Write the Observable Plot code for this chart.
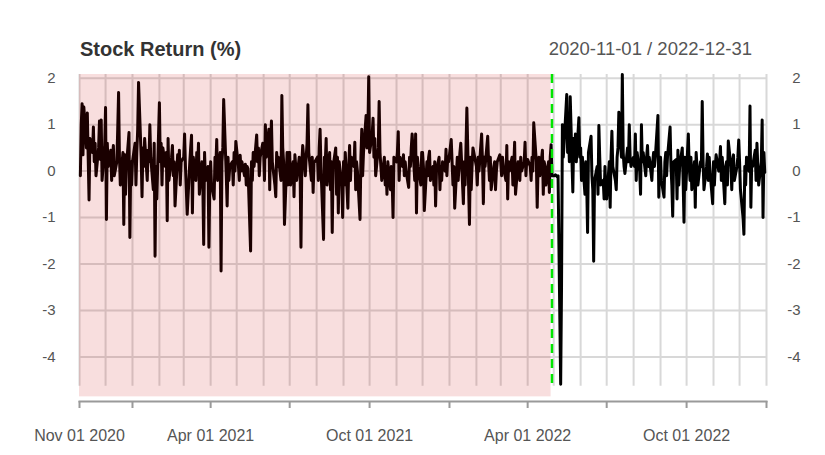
<!DOCTYPE html>
<html>
<head>
<meta charset="utf-8">
<script src="https://cdn.jsdelivr.net/npm/d3@7"></script>
<script src="https://cdn.jsdelivr.net/npm/@observablehq/plot@0.6"></script>
<style>
  body { margin: 0; background: #fff; font-family: "Liberation Sans", Arial, sans-serif; }
  #wrap { position: relative; width: 825px; height: 455px; }
  #title { position: absolute; left: 80px; top: 39px; font-size: 20px; font-weight: bold; color: #333; line-height: 1; white-space: nowrap; }
  #range { position: absolute; right: 73px; top: 40px; font-size: 18.5px; color: #555; line-height: 1; white-space: nowrap; }
</style>
</head>
<body>
<div id="wrap">
  <div id="chart"></div>
  <div id="title">Stock Return (%)</div>
  <div id="range">2020-11-01 / 2022-12-31</div>
</div>
<script>
// Daily stock returns (%), one array per month, trading days (Mon–Fri) in order
const returns2020 = [
  [-0.1, 1.0, 1.45, 0.35, 1.38, 0.5, 1.25, 0.3, -0.62, 0.7, 0.4, 0.95, 0.2, 0.6, -0.1, 0.5, 1.08, 0.25, 1.1, -0.2, 0.55],
  [1.37, -1.04, 0.6, 0.1, 0.45, -0.2, 0.3, 0.55, -0.1, 0.2, 0.9, 1.69, 0.3, -0.3, 0.4, -1.15, 0.35, -0.5, 0.1, 0.83, -1.43, 0.2, -0.3]
];
const returns2021 = [
  [0.2, 0.6, -0.3, 0.4, 0.9, 1.91, 0.3, -0.55, 0.5, 0.1, 0.7, -0.2, 0.45, 0.2, 1.0, 0.3, -0.4, 0.6, -1.83, 0.1, -0.6],
  [1.47, 0.2, 0.6, -0.3, 0.5, 0.1, 0.4, -1.07, 0.7, -0.2, 0.3, 0.55, -0.1, 0.2, -0.75, 0.35, 0.1, 0.45, -0.3, 0.2],
  [0.3, 0.8, 0.1, -0.4, -0.93, 0.2, 0.5, 0.77, -0.9, 0.3, -0.2, 0.4, 0.1, 0.6, -0.5, 0.2, -0.3, -1.58, 0.4, -0.2, 0.1, -1.64, -0.3],
  [0.2, -0.3, -0.6, 0.3, 0.1, 0.68, -0.2, 0.4, -2.15, 0.2, 0.5, 1.54, -0.1, -0.75, 0.3, -0.2, 0.1, 0.2, -0.3, 0.4, 0.0, 0.64],
  [0.1, -0.2, 0.34, 0.0, 0.2, -0.1, 0.15, -0.3, 0.1, 0.05, -1.72, 0.2, -0.2, 0.4, 0.1, 0.78, 0.2, 0.5, -0.1, 0.3, 0.6],
  [0.4, -0.2, 1.0, 0.3, 0.9, -0.4, 0.6, 1.08, 0.2, -0.3, -0.55, 0.4, 0.1, 0.3, -0.2, 1.63, 0.5, 0.2, -1.15, 0.4, -0.3, 0.4],
  [0.4, -0.3, 0.2, -0.55, 0.35, 0.1, -0.2, 0.3, 0.0, -1.64, 0.2, 0.55, -0.1, 0.3, 0.6, 1.43, 0.4, -0.2, 0.3, -0.46, 0.2, 0.2],
  [0.3, -0.2, 0.5, 0.9, 0.1, -1.47, 0.3, 0.2, 0.7, -0.3, 0.4, -0.4, 0.2, -1.32, 0.1, 0.5, -0.5, 0.3, -0.9, 0.2, -0.3, -1.0],
  [0.2, -0.3, 0.4, -0.8, 0.1, 0.55, -0.2, 0.3, 0.1, 0.62, -0.4, 0.2, 0.0, -1.04, 0.3, 0.9, -0.1, 0.4, 1.2, 0.5, 0.8, 2.03],
  [0.4, 0.8, 1.14, 0.3, 0.7, -0.1, 0.5, 1.5, 0.4, 0.1, -0.2, 0.3, -0.3, 0.1, -0.5, 0.2, -0.4, 0.1, -0.2, -1.0, 0.3],
  [0.2, 0.4, 0.85, -0.2, 0.3, 0.1, 0.35, -0.1, 0.2, 0.0, -0.35, 0.3, 0.1, 0.5, 0.8, -0.2, 0.8, -0.9, 0.3, 0.1, -0.3, 0.4],
  [0.4, 0.1, -0.85, 0.2, -0.1, 0.3, 0.43, -0.2, 0.1, -0.3, 0.2, -0.75, 0.0, 0.3, -0.4, 0.1, -0.2, 0.2, 0.0, 0.47, -0.1, 0.3, 0.2]
];
const returns2022 = [
  [0.68, 0.2, -0.3, 0.1, -0.8, 0.3, -0.2, 0.1, 0.4, 0.6, -0.7, 0.2, -0.3, 0.5, 1.36, -1.15, 0.3, -0.4, 0.1, 0.5, 0.2],
  [0.1, -0.3, 0.3, 0.0, 0.8, 0.2, -0.7, 0.3, 0.1, 0.75, 0.2, -0.2, 0.3, -0.4, 0.1, 0.2, -0.4, 0.0, 0.2, 0.35],
  [0.2, -0.1, 0.3, 0.1, -0.2, 0.55, -0.6, 0.2, 0.0, 0.3, -0.3, 0.1, 0.62, -0.5, 0.2, 0.1, -0.2, 0.3, 0.0, 0.2, 0.62, -0.1, 0.25],
  [0.25, 0.1, -0.2, 0.3, 0.0, 1.04, 0.2, -0.78, 0.1, 0.3, -0.1, 0.45, -0.5, 0.2, 0.1, -0.3, 0.2, -0.46, 0.3, 0.57, -0.1],
  [-0.1, -0.08, -0.1, -0.12, -0.1, -4.59, -2.5, 1.0, 0.3, 0.6, 1.65, 0.4, 0.9, 0.2, 1.6, -0.45, 0.7, 0.3, 0.8, 0.2, 1.15, 0.3],
  [0.5, -0.2, 0.3, -0.5, 0.2, -0.3, -1.32, 0.4, 0.75, -0.1, -0.4, -1.94, -0.2, 0.1, -0.5, 0.98, 0.3, -0.3, -0.2, -0.6, 0.1, -0.4],
  [-0.6, 0.2, -0.78, 0.3, 0.86, 0.1, -0.2, -0.4, 0.3, 0.5, 1.27, 0.3, 2.08, 0.4, 0.1, -0.05, 0.5, 0.2, 1.0, 0.3, 0.1],
  [0.3, 0.1, 0.8, -0.2, 0.4, 0.0, -0.5, 1.0, 0.2, 0.4, -0.1, 0.3, 0.55, 0.1, 0.3, -0.2, 0.2, 0.4, 0.1, 0.3, 1.2, -0.56, 0.2],
  [0.3, -0.2, -0.56, 0.2, 0.4, -0.1, 0.3, 0.95, 0.1, -0.3, -0.97, 0.2, 0.25, -0.6, 0.45, -0.3, 0.1, 0.5, -0.2, -1.1, 0.3, -0.4],
  [0.8, 0.1, -0.2, 0.3, -0.4, 0.2, -0.78, 0.4, 0.1, -0.3, 0.2, 0.1, 1.5, 0.2, -0.4, 0.1, 0.37, -0.2, 0.3, 0.0, -0.7],
  [0.2, -0.3, 0.1, 0.35, 0.0, 0.2, 0.53, -0.2, 0.3, -0.7, 0.1, 0.2, -0.3, 0.65, 0.1, -0.4, 0.2, 0.35, -0.2, 0.1, 0.3, 0.67],
  [0.2, -0.4, -1.0, -1.36, 0.1, -0.3, 0.3, 0.0, 1.4, -0.78, 0.2, 0.1, 0.45, -0.2, 0.6, 0.1, -0.3, 0.2, 1.1, -1.0, 0.4, -0.03]
];

const seriesStart = "2020-11-01";
const seriesEnd = "2023-01-01";
const shadeStart = "2020-11-01";
const shadeEnd = "2022-04-28";
const eventDate = "2022-04-29";
const yTicks = [-4, -3, -2, -1, 0, 1, 2];
const majorTickDates = ["2020-11-01", "2021-01-01", "2021-04-01", "2021-07-01", "2021-10-01",
                        "2022-01-01", "2022-04-01", "2022-07-01", "2022-10-01", "2023-01-01"];
const labelDates = ["2020-11-01", "2021-04-01", "2021-10-01", "2022-04-01", "2022-10-01"];

// Build the daily table
const monthValues = [...returns2020, ...returns2021, ...returns2022];
const months = d3.utcMonth.range(new Date(seriesStart), new Date(seriesEnd));
const data = [];
months.forEach((m, i) => {
  const days = d3.utcDays(m, d3.utcMonth.offset(m, 1)).filter(d => d.getUTCDay() !== 0 && d.getUTCDay() !== 6);
  (monthValues[i] || []).forEach((v, j) => { if (days[j]) data.push({date: days[j], value: v}); });
});

const yMin = -4.63, yMax = 2.08, shadeBottom = -4.86;
const fmt = d3.utcFormat("%b %d %Y");
const font = "'Liberation Sans', Arial, sans-serif";

const chart = Plot.plot({
  width: 825,
  height: 455,
  marginLeft: 79,
  marginRight: 59,
  marginTop: 74,
  marginBottom: 54,
  x: {type: "utc", domain: [new Date(seriesStart), new Date(seriesEnd)], axis: null},
  y: {domain: [yMin, yMax], insetBottom: 15.3, axis: null},
  style: {fontFamily: font, background: "white", overflow: "visible"},
  marks: [
    Plot.ruleY(yTicks, {stroke: "#d8d8d8", strokeWidth: 2}),
    Plot.ruleX(months.concat([new Date(seriesEnd)]), {y1: yMax, y2: yMin, stroke: "#d8d8d8", strokeWidth: 2}),
    Plot.line(data, {x: "date", y: "value", stroke: "#000", strokeWidth: 3}),
    Plot.rect([{a: new Date(shadeStart), b: new Date(shadeEnd)}],
      {x1: "a", x2: "b", y1: shadeBottom, y2: yMax, fill: "rgb(200,0,0)", fillOpacity: 0.13}),
    Plot.ruleX([new Date(eventDate)], {y1: yMax, y2: yMin, stroke: "#00e600", strokeWidth: 2.5, strokeDasharray: "9,6"}),
    Plot.frame({anchor: "bottom", stroke: "#9a9a9a", strokeWidth: 2}),
    Plot.axisX({ticks: majorTickDates.map(d => new Date(d)), tickSize: 7, tickFormat: () => "", stroke: "#9a9a9a", strokeWidth: 2}),
    Plot.text(labelDates.map(d => new Date(d)), {x: d => d, text: d => fmt(d), frameAnchor: "bottom", dy: 39, fontSize: 16, fill: "#555"}),
    Plot.text(yTicks, {y: d => d, text: d => String(d), frameAnchor: "left", dx: -24, textAnchor: "end", fontSize: 15, fill: "#555"}),
    Plot.text(yTicks, {y: d => d, text: d => String(d), frameAnchor: "right", dx: 34, textAnchor: "end", fontSize: 15, fill: "#555"})
  ]
});
document.getElementById("chart").appendChild(chart);
</script>
</body>
</html>
